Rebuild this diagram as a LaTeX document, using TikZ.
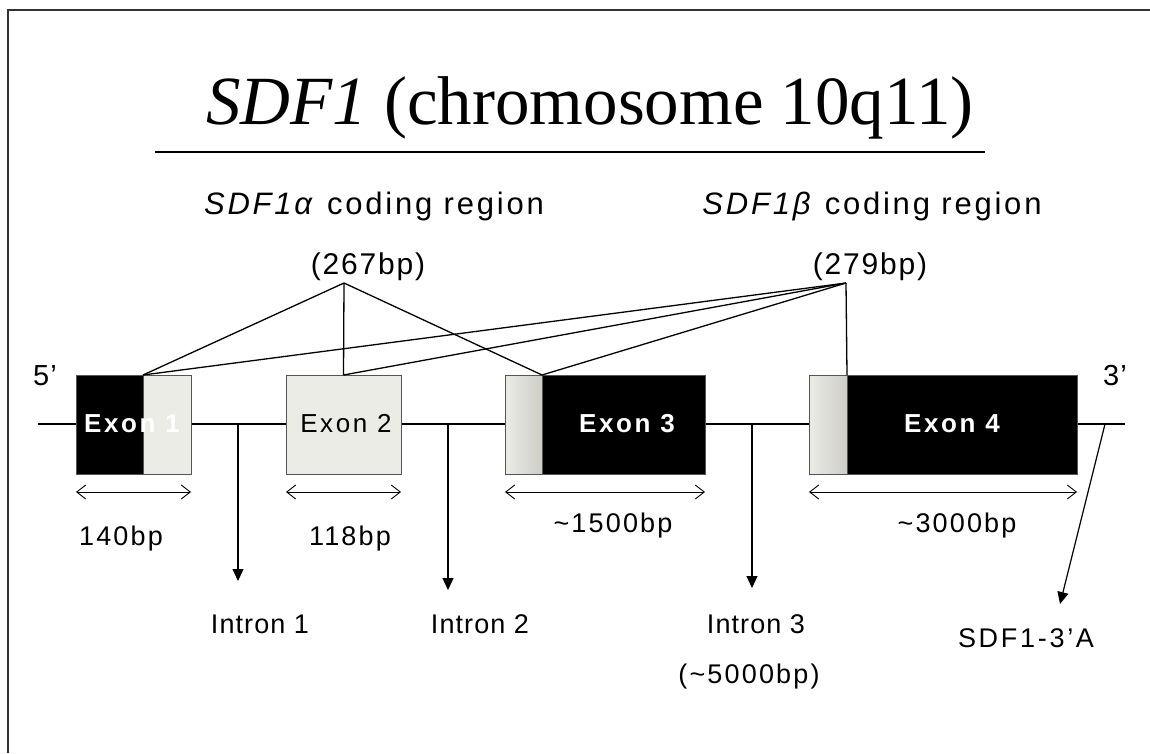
\documentclass[tikz,border=0pt]{standalone}
\usepackage{fontspec}
\setmainfont{Liberation Serif}
\newfontfamily\arialfam{Liberation Sans}
\usetikzlibrary{arrows.meta}

\definecolor{exonlight}{RGB}{236,236,231}
\definecolor{exonedge}{RGB}{85,85,85}
\definecolor{exonshade}{RGB}{205,205,198}

% sans label font: size, letter spacing
\newcommand{\lblfont}[2]{\arialfam\fontsize{#1}{#1}\selectfont\addfontfeature{LetterSpace=#2}}

\begin{document}
\begin{tikzpicture}[x=1pt,y=-1pt,
  frame/.style={line width=2pt, draw=black!80},
  dna/.style={line width=2.6pt},
  exonbox/.style={draw=exonedge, line width=1pt, inner sep=0pt, outer sep=0pt,
                  anchor=north west, minimum height=99pt},
  darkpart/.style={exonbox, fill=black},
  lightpart/.style={exonbox, fill=exonlight},
  fadepart/.style={exonbox, left color=exonlight, right color=exonshade},
  link/.style={line width=1.3pt},
  span/.style={line width=0.9pt,
     {Straight Barb[length=9pt,width=14pt]}-{Straight Barb[length=9pt,width=14pt]}},
  pointer/.style={line width=1.2pt, -{Triangle[length=12pt,width=11pt]}},
  txt/.style={anchor=base, inner sep=0pt, outer sep=0pt},
]
\useasboundingbox (0,0) rectangle (1150,753);
\fill[white] (0,0) rectangle (1150,753);

% frame (top and left edges)
\coordinate (fbl) at (8,753);
\coordinate (ftl) at (8,10);
\coordinate (ftr) at (1150,10);
\draw[frame] (fbl) -- (ftl) -- (ftr);

% title
\node[txt] (title) at (590,124) {\fontsize{69}{69}\selectfont\textit{SDF1} (chromosome 10q11)};
\coordinate (ulL) at (155,152);
\coordinate (ulR) at (985,152);
\draw[line width=2.4pt] (ulL) -- (ulR);

% coding region headings
\node[txt, font={\lblfont{31}{9}}] (alab) at (374,214) {\textit{SDF1α} coding region};
\node[txt, font={\lblfont{31}{9}}] (blab) at (872,214) {\textit{SDF1β} coding region};
\node[txt, font={\lblfont{30}{6}}] (alen) at (368,274) {(267bp)};
\node[txt, font={\lblfont{30}{6}}] (blen) at (870,274) {(279bp)};

% strand ends
\node[txt, font={\lblfont{29}{4}}] (five) at (45,385) {5’};
\node[txt, font={\lblfont{29}{4}}] (three) at (1115,385) {3’};

% DNA strand
\coordinate (dnaL) at (38,424);
\coordinate (dnaR) at (1125,424);
\draw[dna] (dnaL) -- (dnaR);

% exons
\node[darkpart,  minimum width=67pt]  (e1d) at (76,375) {};
\node[lightpart, minimum width=48pt]  (e1l) at (143,375) {};
\node[lightpart, minimum width=115pt] (e2)  at (286,375) {};
\node[fadepart,  minimum width=37pt]  (e3l) at (505,375) {};
\node[darkpart,  minimum width=163pt] (e3d) at (542,375) {};
\node[fadepart,  minimum width=38pt]  (e4l) at (809,375) {};
\node[darkpart,  minimum width=230pt] (e4d) at (847,375) {};

\node[txt, font={\lblfont{26}{10}\bfseries}, text=white] (x1) at (132,432) {Exon 1};
\node[txt, font={\lblfont{26}{10}}] (x2) at (346,432) {Exon 2};
\node[txt, font={\lblfont{26}{10}\bfseries}, text=white] (x3) at (627,432) {Exon 3};
\node[txt, font={\lblfont{26}{10}\bfseries}, text=white] (x4) at (952,432) {Exon 4};

% links from coding regions to the exons
\coordinate (apexA) at (344,283);
\coordinate (apexB) at (846,283);
\draw[link] (e1l.north west) -- (apexA) -- (e3d.north west);
\draw[link] (apexA) -- (e2.north);
\draw[link] (e1l.north west) -- (apexB);
\draw[link] (e2.north) -- (apexB);
\draw[link] (e3d.north west) -- (apexB);
\draw[link] (apexB) -- (e4d.north west);

% exon lengths
\coordinate (s1a) at (76,492);  \coordinate (s1b) at (191,492);
\coordinate (s2a) at (286,492); \coordinate (s2b) at (401,492);
\coordinate (s3a) at (505,492); \coordinate (s3b) at (705,492);
\coordinate (s4a) at (809,492); \coordinate (s4b) at (1077,492);
\draw[span] (s1a) -- (s1b);
\draw[span] (s2a) -- (s2b);
\draw[span] (s3a) -- (s3b);
\draw[span] (s4a) -- (s4b);
\node[txt, font={\lblfont{27}{8}}] (l1) at (121,545) {140bp};
\node[txt, font={\lblfont{27}{8}}] (l2) at (350,545) {118bp};
\node[txt, font={\lblfont{27}{8}}] (l3) at (613,532) {\char`\~1500bp};
\node[txt, font={\lblfont{27}{8}}] (l4) at (957,532) {\char`\~3000bp};

% introns and 3' marker
\coordinate (i1) at (238,424); \coordinate (i1t) at (238,581);
\coordinate (i2) at (448,424); \coordinate (i2t) at (448,590);
\coordinate (i3) at (752,424); \coordinate (i3t) at (752,588);
\coordinate (pA) at (1105,424); \coordinate (pAt) at (1060,604);
\draw[pointer] (i1) -- (i1t);
\draw[pointer] (i2) -- (i2t);
\draw[pointer] (i3) -- (i3t);
\draw[pointer] (pA) -- (pAt);

\node[txt, font={\lblfont{27}{4}}] (n1) at (260,633) {Intron 1};
\node[txt, font={\lblfont{27}{4}}] (n2) at (480,633) {Intron 2};
\node[txt, font={\lblfont{27}{4}}] (n3) at (756,633) {Intron 3};
\node[txt, font={\lblfont{27}{8}}] (n3b) at (749,683) {(\char`\~5000bp)};
\node[txt, font={\lblfont{27}{10}}] (nA) at (1026,647) {SDF1-3’A};
\end{tikzpicture}
\end{document}
